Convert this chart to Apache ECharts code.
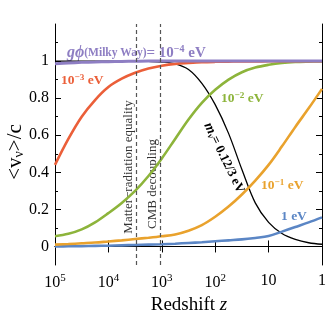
<!DOCTYPE html>
<html>
<head>
<meta charset="utf-8">
<script src="https://cdn.jsdelivr.net/npm/echarts@6/dist/echarts.min.js"></script>
<style>
  html, body { margin: 0; padding: 0; background: #fff; }
  #main { width: 332px; height: 320px; }
</style>
</head>
<body>
<div id="main"></div>
<script>
// redshift samples (log steps of 0.25)
var zs = [100000, 56234, 31623, 17783, 10000, 5623, 3162, 1778, 1000, 562.3, 316.2,
          177.8, 100, 56.23, 31.62, 17.78, 10, 5.623, 3.162, 1.778, 1];

// <v>/c
var vPurple = [0.986, 0.99, 0.993, 0.995, 0.997, 0.998, 0.999, 1, 1, 1, 1, 1, 1, 1, 1, 1, 1, 1, 1, 1, 1];
var vRed    = [0.44, 0.58, 0.70, 0.79, 0.86, 0.905, 0.937, 0.96, 0.975, 0.985, 0.99, 0.994, 0.996, 0.997, 0.998, 0.998, 0.999, 0.999, 0.999, 0.999, 0.999];
var vGreen  = [0.055, 0.068, 0.092, 0.13, 0.18, 0.235, 0.30, 0.38, 0.475, 0.58, 0.685, 0.775, 0.845, 0.9, 0.94, 0.965, 0.98, 0.99, 0.995, 0.997, 0.998];
var vOrange = [0.01, 0.013, 0.017, 0.021, 0.027, 0.033, 0.04, 0.047, 0.055, 0.065, 0.085, 0.115, 0.16, 0.215, 0.28, 0.355, 0.44, 0.54, 0.645, 0.745, 0.85];
var vBlue   = [0, 0.001, 0.002, 0.003, 0.004, 0.006, 0.008, 0.01, 0.012, 0.015, 0.019, 0.023, 0.028, 0.033, 0.038, 0.046, 0.056, 0.08, 0.105, 0.13, 0.157];
var vBlack  = [1, 1, 1, 1, 1, 0.999, 0.999, 0.998, 0.995, 0.985, 0.955, 0.88, 0.765, 0.61, 0.415, 0.235, 0.13, 0.07, 0.038, 0.02, 0.012];

// matter-radiation equality, CMB decoupling
var eventZ = [3000, 1050];

var yMajor = [0, 0.2, 0.4, 0.6, 0.8, 1];
var yMinor = [0.1, 0.3, 0.5, 0.7, 0.9, 1.1];

var serif = '"Liberation Serif", "DejaVu Serif", serif';

function pairs(vals) {
    return zs.map(function (z, i) { return [z, vals[i]]; });
}

function line(name, vals, color, width, extra) {
    var s = {
        name: name,
        type: 'line',
        data: pairs(vals),
        showSymbol: false,
        smooth: 0.35,
        lineStyle: { color: color, width: width },
        z: 3
    };
    for (var k in extra) s[k] = extra[k];
    return s;
}

var myChart = echarts.init(document.getElementById('main'));

var xBase = {
    type: 'log',
    logBase: 10,
    min: 1,
    max: 100000,
    inverse: true,
    splitLine: { show: false },
    axisLine: { lineStyle: { color: '#000', width: 1 } },
    axisTick: { inside: true, length: 6, lineStyle: { color: '#000' } }
};

var yBase = {
    type: 'value',
    min: -0.1,
    max: 1.2,
    interval: 0.1,
    splitLine: { show: false },
    axisLine: { show: true, lineStyle: { color: '#000', width: 1 } }
};

function merge(a, b) {
    var o = {};
    for (var k in a) o[k] = a[k];
    for (var k2 in b) o[k2] = b[k2];
    return o;
}

// label with a raised exponent, e.g. 10^-3 eV
function powLabel(exp, color, size) {
    return {
        text: '{b|10}{s|' + exp + '}{b| eV}',
        align: 'left', verticalAlign: 'middle',
        rich: {
            b: { fontFamily: serif, fontSize: size, fontWeight: 'bold', fill: color },
            s: { fontFamily: serif, fontSize: size * 0.68, fontWeight: 'bold', fill: color, padding: [0, 0, 7, 0] }
        }
    };
}

var option = {
    animation: false,
    grid: { left: 55, right: 10, top: 24, bottom: 55 },
    xAxis: [
        merge(xBase, {
            position: 'bottom',
            axisLabel: {
                margin: 8,
                fontFamily: serif,
                color: '#000',
                formatter: function (v) {
                    var p = Math.round(Math.log(v) / Math.LN10);
                    if (p === 0) return '{b|1}';
                    if (p === 1) return '{b|10}';
                    return '{b|10}{s|' + p + '}';
                },
                rich: {
                    b: { fontFamily: serif, fontSize: 16, color: '#000' },
                    s: { fontFamily: serif, fontSize: 11, color: '#000', padding: [0, 0, 9, 0] }
                }
            }
        }),
        merge(xBase, { position: 'top', axisLabel: { show: false } })
    ],
    yAxis: [
        merge(yBase, {
            position: 'left',
            axisTick: { inside: true, length: 6, customValues: yMajor, lineStyle: { color: '#000' } },
            axisLabel: { customValues: yMajor, margin: 6, fontFamily: serif, fontSize: 16, color: '#000' }
        }),
        merge(yBase, {
            position: 'left',
            axisLine: { show: false },
            axisTick: { inside: true, length: 3, customValues: yMinor, lineStyle: { color: '#000' } },
            axisLabel: { show: false }
        }),
        merge(yBase, {
            position: 'right',
            axisTick: { inside: true, length: 6, customValues: yMajor, lineStyle: { color: '#000' } },
            axisLabel: { show: false }
        }),
        merge(yBase, {
            position: 'right',
            axisLine: { show: false },
            axisTick: { inside: true, length: 3, customValues: yMinor, lineStyle: { color: '#000' } },
            axisLabel: { show: false }
        })
    ],
    series: [
        line('m = 0.12/3 eV', vBlack, '#000', 1.3, {
            z: 2,
            markLine: {
                silent: true,
                symbol: 'none',
                label: { show: false },
                lineStyle: { color: '#555', type: [4, 3], width: 1.2 },
                data: eventZ.map(function (z) { return { xAxis: z }; })
            }
        }),
        line('1 eV', vBlue, '#5b86c5', 2.6),
        line('1e-1 eV', vOrange, '#e9a22d', 2.6),
        line('1e-2 eV', vGreen, '#8db43b', 2.6),
        line('1e-3 eV', vRed, '#eb5f39', 2.6),
        line('1e-4 eV', vPurple, '#8e7ec3', 3)
    ],
    graphic: [
        {
            type: 'text', x: 15, y: 152, rotation: Math.PI / 2,
            style: {
                text: '{a|<v}{n|ν}{a|>/c}',
                align: 'center', verticalAlign: 'middle',
                rich: {
                    a: { fontFamily: serif, fontSize: 21, fill: '#000' },
                    n: { fontFamily: serif, fontSize: 14, fill: '#000', padding: [9, 0, 0, 0] }
                }
            }
        },
        {
            type: 'text', x: 189, y: 305,
            style: {
                text: '{a|Redshift }{i|z}',
                align: 'center', verticalAlign: 'middle',
                rich: {
                    a: { fontFamily: serif, fontSize: 19, fill: '#000' },
                    i: { fontFamily: serif, fontSize: 19, fontStyle: 'italic', fill: '#000' }
                }
            }
        },
        {
            type: 'text', x: 129, y: 167, rotation: Math.PI / 2,
            style: {
                text: 'Matter−radiation equality',
                fontFamily: serif, fontSize: 13, fill: '#333',
                align: 'center', verticalAlign: 'middle'
            }
        },
        {
            type: 'text', x: 153, y: 184, rotation: Math.PI / 2,
            style: {
                text: 'CMB decoupling',
                fontFamily: serif, fontSize: 13, fill: '#333',
                align: 'center', verticalAlign: 'middle'
            }
        },
        {
            type: 'text', x: 67, y: 53,
            style: {
                text: '{g|gϕ}{m|(Milky Way)}{b|= 10}{s|−4}{b| eV}',
                align: 'left', verticalAlign: 'middle',
                rich: {
                    g: { fontFamily: serif, fontSize: 16, fontStyle: 'italic', fontWeight: 'bold', fill: '#8e7ec3' },
                    m: { fontFamily: serif, fontSize: 11.5, fontWeight: 'bold', fill: '#8e7ec3' },
                    b: { fontFamily: serif, fontSize: 15, fontWeight: 'bold', fill: '#8e7ec3' },
                    s: { fontFamily: serif, fontSize: 10, fontWeight: 'bold', fill: '#8e7ec3', padding: [0, 0, 8, 0] }
                }
            }
        },
        { type: 'text', x: 61, y: 81, style: powLabel('−3', '#eb5f39', 13.5) },
        { type: 'text', x: 221, y: 99, style: powLabel('−2', '#8db43b', 13.5) },
        { type: 'text', x: 261, y: 186, style: powLabel('−1', '#e9a22d', 13.5) },
        {
            type: 'text', x: 281, y: 217,
            style: {
                text: '1 eV',
                fontFamily: serif, fontSize: 13.5, fontWeight: 'bold', fill: '#5b86c5',
                align: 'left', verticalAlign: 'middle'
            }
        },
        {
            type: 'text', x: 224, y: 158, rotation: -64 * Math.PI / 180,
            style: {
                text: '{i|m}{n|ν}{b|= 0.12/3 eV}',
                align: 'center', verticalAlign: 'middle',
                rich: {
                    i: { fontFamily: serif, fontSize: 14, fontStyle: 'italic', fontWeight: 'bold', fill: '#000' },
                    n: { fontFamily: serif, fontSize: 9, fontStyle: 'italic', fontWeight: 'bold', fill: '#000', padding: [6, 0, 0, 0] },
                    b: { fontFamily: serif, fontSize: 13, fontWeight: 'bold', fill: '#000' }
                }
            }
        }
    ]
};

myChart.setOption(option);
</script>
</body>
</html>
